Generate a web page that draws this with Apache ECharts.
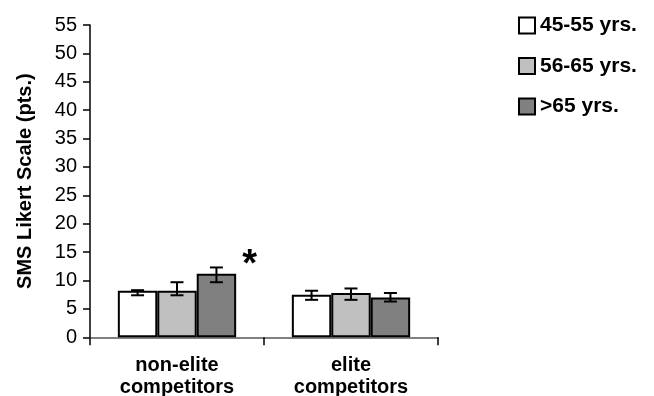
<!DOCTYPE html>
<html>
<head>
<meta charset="utf-8">
<script src="https://cdn.jsdelivr.net/npm/echarts@6/dist/echarts.min.js"></script>
<style>html,body{margin:0;padding:0;background:#fff}#c{width:654px;height:396px}</style>
</head>
<body>
<div id="c"></div>
<script>
var categories = ['non-elite\ncompetitors', 'elite\ncompetitors'];
var seriesNames = ['45-55 yrs.', '56-65 yrs.', '>65 yrs.'];
var means45 = [8.2, 7.5];
var means56 = [8.2, 7.8];
var means65 = [11.2, 7.0];
var low45 = [7.4, 6.6], high45 = [8.3, 8.2];
var low56 = [7.4, 6.6], high56 = [9.7, 8.6];
var low65 = [9.7, 6.3], high65 = [12.3, 7.8];
var yTicks = {min: 0, max: 55, interval: 5};

var colors = ['#ffffff', '#c0c0c0', '#808080'];
var means = [means45, means56, means65];
var lows = [low45, low56, low65];
var highs = [high45, high56, high65];
var FONT = '"Liberation Sans", Arial, Helvetica, sans-serif';
var GAP = 0.32;

var chart = echarts.init(document.getElementById('c'), null, {renderer: 'canvas'});

var series = [];
seriesNames.forEach(function (name, i) {
  var s = {
    name: name,
    type: 'bar',
    data: means[i].slice(),
    barGap: '0%',
    barCategoryGap: (GAP * 100) + '%',
    itemStyle: {color: colors[i], borderColor: '#000', borderWidth: 2},
    z: 2
  };
  if (i === 2) {
    s.data = means[i].map(function (v, k) {
      if (k === 0) {
        return {value: v, label: {show: true, formatter: '*', position: ['100%', 0],
          offset: [6, 11], align: 'left', verticalAlign: 'bottom',
          fontSize: 38, fontWeight: 'bold', fontFamily: FONT, color: '#000'}};
      }
      return v;
    });
  }
  series.push(s);
});

seriesNames.forEach(function (name, i) {
  var d = [];
  for (var k = 0; k < categories.length; k++) d.push([k, lows[i][k], highs[i][k]]);
  series.push({
    type: 'custom',
    name: name + ' err',
    data: d,
    z: 5,
    silent: true,
    renderItem: function (params, api) {
      var k = api.value(0);
      var band = api.size([1, 0])[0];
      var barW = band * (1 - GAP) / 3;
      var off = (i - 1) * barW;
      var pl = api.coord([k, api.value(1)]);
      var ph = api.coord([k, api.value(2)]);
      var x = pl[0] + off;
      var cw = 6.5;
      var st = {stroke: '#000', lineWidth: 2};
      return {type: 'group', children: [
        {type: 'line', shape: {x1: x, y1: pl[1], x2: x, y2: ph[1]}, style: st},
        {type: 'line', shape: {x1: x - cw, y1: pl[1], x2: x + cw, y2: pl[1]}, style: st},
        {type: 'line', shape: {x1: x - cw, y1: ph[1], x2: x + cw, y2: ph[1]}, style: st}
      ]};
    }
  });
});

chart.setOption({
  animation: false,
  backgroundColor: '#fff',
  grid: {left: 90, right: 216, top: 25, bottom: 58.7, containLabel: false, outerBoundsMode: 'none'},
  legend: {
    orient: 'vertical', left: 518, top: 15, padding: 0,
    data: seriesNames, icon: 'rect', itemWidth: 16, itemHeight: 16, itemGap: 19.5,
    selectedMode: false,
    textStyle: {fontFamily: FONT, fontWeight: 'bold', fontSize: 21, lineHeight: 16, color: '#000'}
  },
  xAxis: {
    type: 'category', data: categories,
    axisLine: {lineStyle: {color: '#808080', width: 2}},
    axisTick: {show: true, length: 8, lineStyle: {color: '#000', width: 1.5}},
    axisLabel: {fontFamily: FONT, fontWeight: 'bold', fontSize: 20, color: '#000',
      lineHeight: 22, margin: 17, interval: 0}
  },
  yAxis: {
    type: 'value', min: yTicks.min, max: yTicks.max, interval: yTicks.interval,
    name: 'SMS Likert Scale (pts.)', nameLocation: 'middle', nameGap: 55,
    nameTextStyle: {fontFamily: FONT, fontWeight: 'bold', fontSize: 20, color: '#000'},
    axisLine: {show: true, lineStyle: {color: '#000', width: 1.5}},
    axisTick: {show: true, inside: false, length: 7, lineStyle: {color: '#000', width: 1.5}},
    axisLabel: {fontFamily: FONT, fontSize: 20, color: '#000', margin: 13},
    splitLine: {show: false}
  },
  series: series
});
</script>
</body>
</html>
